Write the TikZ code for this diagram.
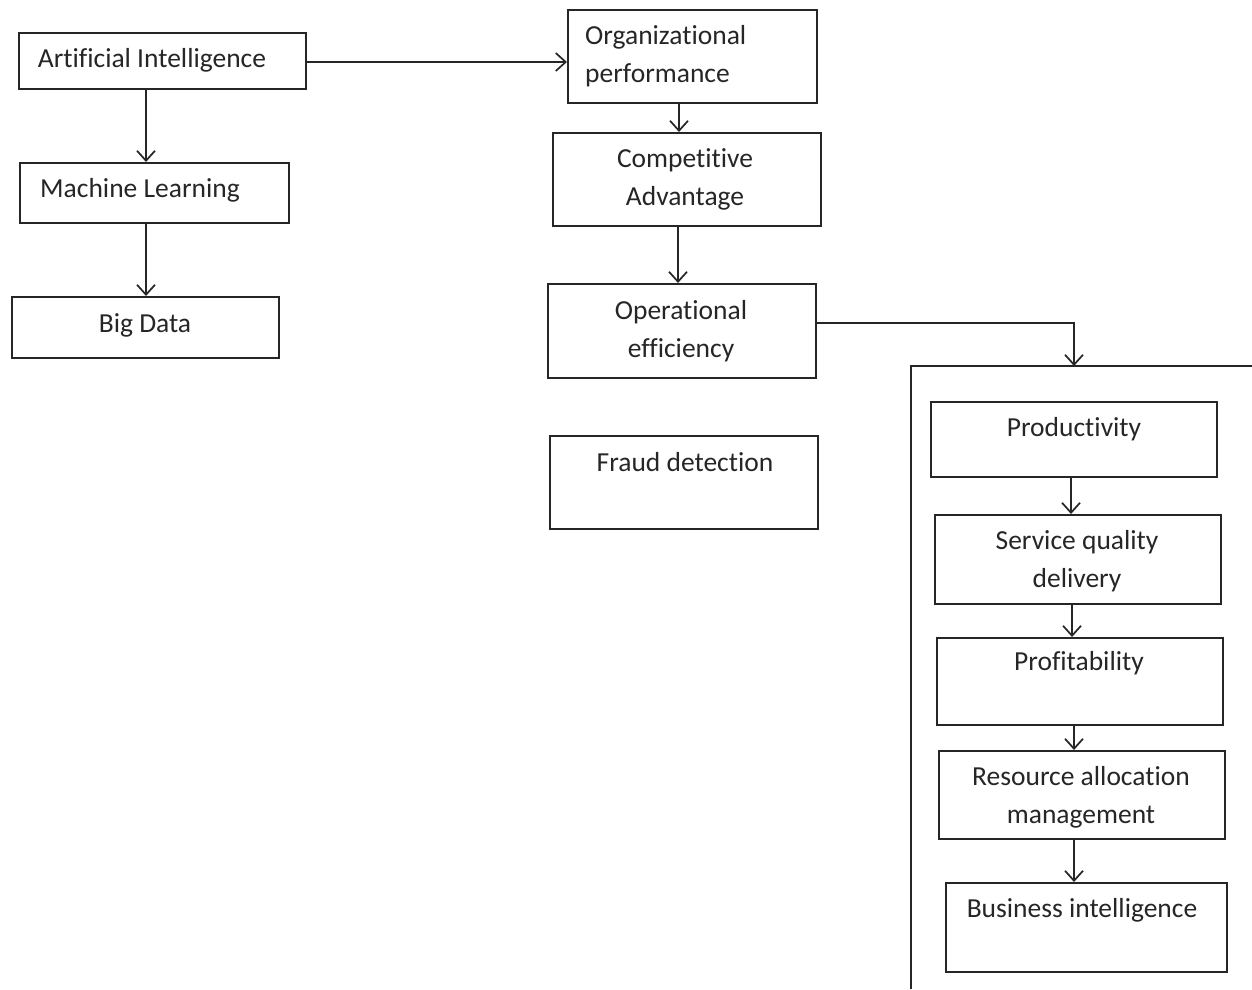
\documentclass[tikz,border=0pt]{standalone}
\usepackage{fontspec}
\setmainfont{Carlito}[Ligatures=NoCommon]
\usetikzlibrary{arrows.meta}
\begin{document}
\begin{tikzpicture}[x=1pt,y=-1pt,
  box/.style={draw=black!85,line width=1.7pt,inner sep=0pt},
  lbl/.style={font=\fontsize{27.5}{38}\selectfont,text=black!85,inner sep=0pt,align=center},
  arr/.style={draw=black!85,line width=1.7pt,-{Straight Barb[length=10pt,width=18pt,line width=1.7pt]}},
  ln/.style={draw=black!85,line width=1.7pt}]
\useasboundingbox (0,0) rectangle (1252,989);
\fill[white] (0,0) rectangle (1252,989);
% left column
\node[box,minimum width=287pt,minimum height=56pt,anchor=north west] (ai) at (18,32) {};
\node[box,minimum width=269pt,minimum height=60pt,anchor=north west] (ml) at (19,162) {};
\node[box,minimum width=267pt,minimum height=61pt,anchor=north west] (bd) at (11,296) {};
\node[lbl] (tai) at (152,60) {Artificial Intelligence};
\node[lbl] (tml) at (140,190) {Machine Learning};
\node[lbl] (tbd) at (145,325) {Big Data};
% middle column
\node[box,minimum width=249pt,minimum height=93pt,anchor=north west] (op) at (567,9) {};
\node[box,minimum width=268pt,minimum height=93pt,anchor=north west] (ca) at (552,132) {};
\node[box,minimum width=268pt,minimum height=94pt,anchor=north west] (oe) at (547,283) {};
\node[box,minimum width=268pt,minimum height=93pt,anchor=north west] (fd) at (549,435) {};
\node[lbl,align=left,anchor=west] (top) at (585,56) {Organizational\\performance};
\node[lbl] (tca) at (685,179) {Competitive\\Advantage};
\node[lbl] (toe) at (681,331) {Operational\\efficiency};
\node[lbl] (tfd) at (685,462) {Fraud detection};
% outer open frame
\coordinate (fr) at (1074,366);
\draw[ln] (911,989) -- (911,366) -- (1252,366);
% right column
\node[box,minimum width=286pt,minimum height=75pt,anchor=north west] (pr) at (930,401) {};
\node[box,minimum width=286pt,minimum height=89pt,anchor=north west] (sq) at (934,514) {};
\node[box,minimum width=286pt,minimum height=87pt,anchor=north west] (pf) at (936,637) {};
\node[box,minimum width=286pt,minimum height=88pt,anchor=north west] (ra) at (938,750) {};
\node[box,minimum width=281pt,minimum height=89pt,anchor=north west] (bi) at (945,882) {};
\node[lbl] (tpr) at (1074,429) {Productivity};
\node[lbl] (tsq) at (1077,561) {Service quality\\delivery};
\node[lbl] (tpf) at (1079,663) {Profitability};
\node[lbl] (tra) at (1081,797) {Resource allocation\\management};
\node[lbl] (tbi) at (1082,910) {Business intelligence};
% connectors
\draw[arr] (ai.south -| 146,0) -- (ml.north -| 146,0);
\draw[arr] (ml.south -| 146,0) -- (bd.north -| 146,0);
\draw[arr] (ai.east |- 0,62) -- (op.west |- 0,62);
\draw[arr] (op.south -| 679,0) -- (ca.north -| 679,0);
\draw[arr] (ca.south -| 678,0) -- (oe.north -| 678,0);
\draw[arr] (oe.east |- 0,323) -| (fr);
\draw[arr] (pr.south -| 1071,0) -- (sq.north -| 1071,0);
\draw[arr] (sq.south -| 1072,0) -- (pf.north -| 1072,0);
\draw[arr] (pf.south -| 1074,0) -- (ra.north -| 1074,0);
\draw[arr] (ra.south -| 1074,0) -- (bi.north -| 1074,0);
\end{tikzpicture}
\end{document}
